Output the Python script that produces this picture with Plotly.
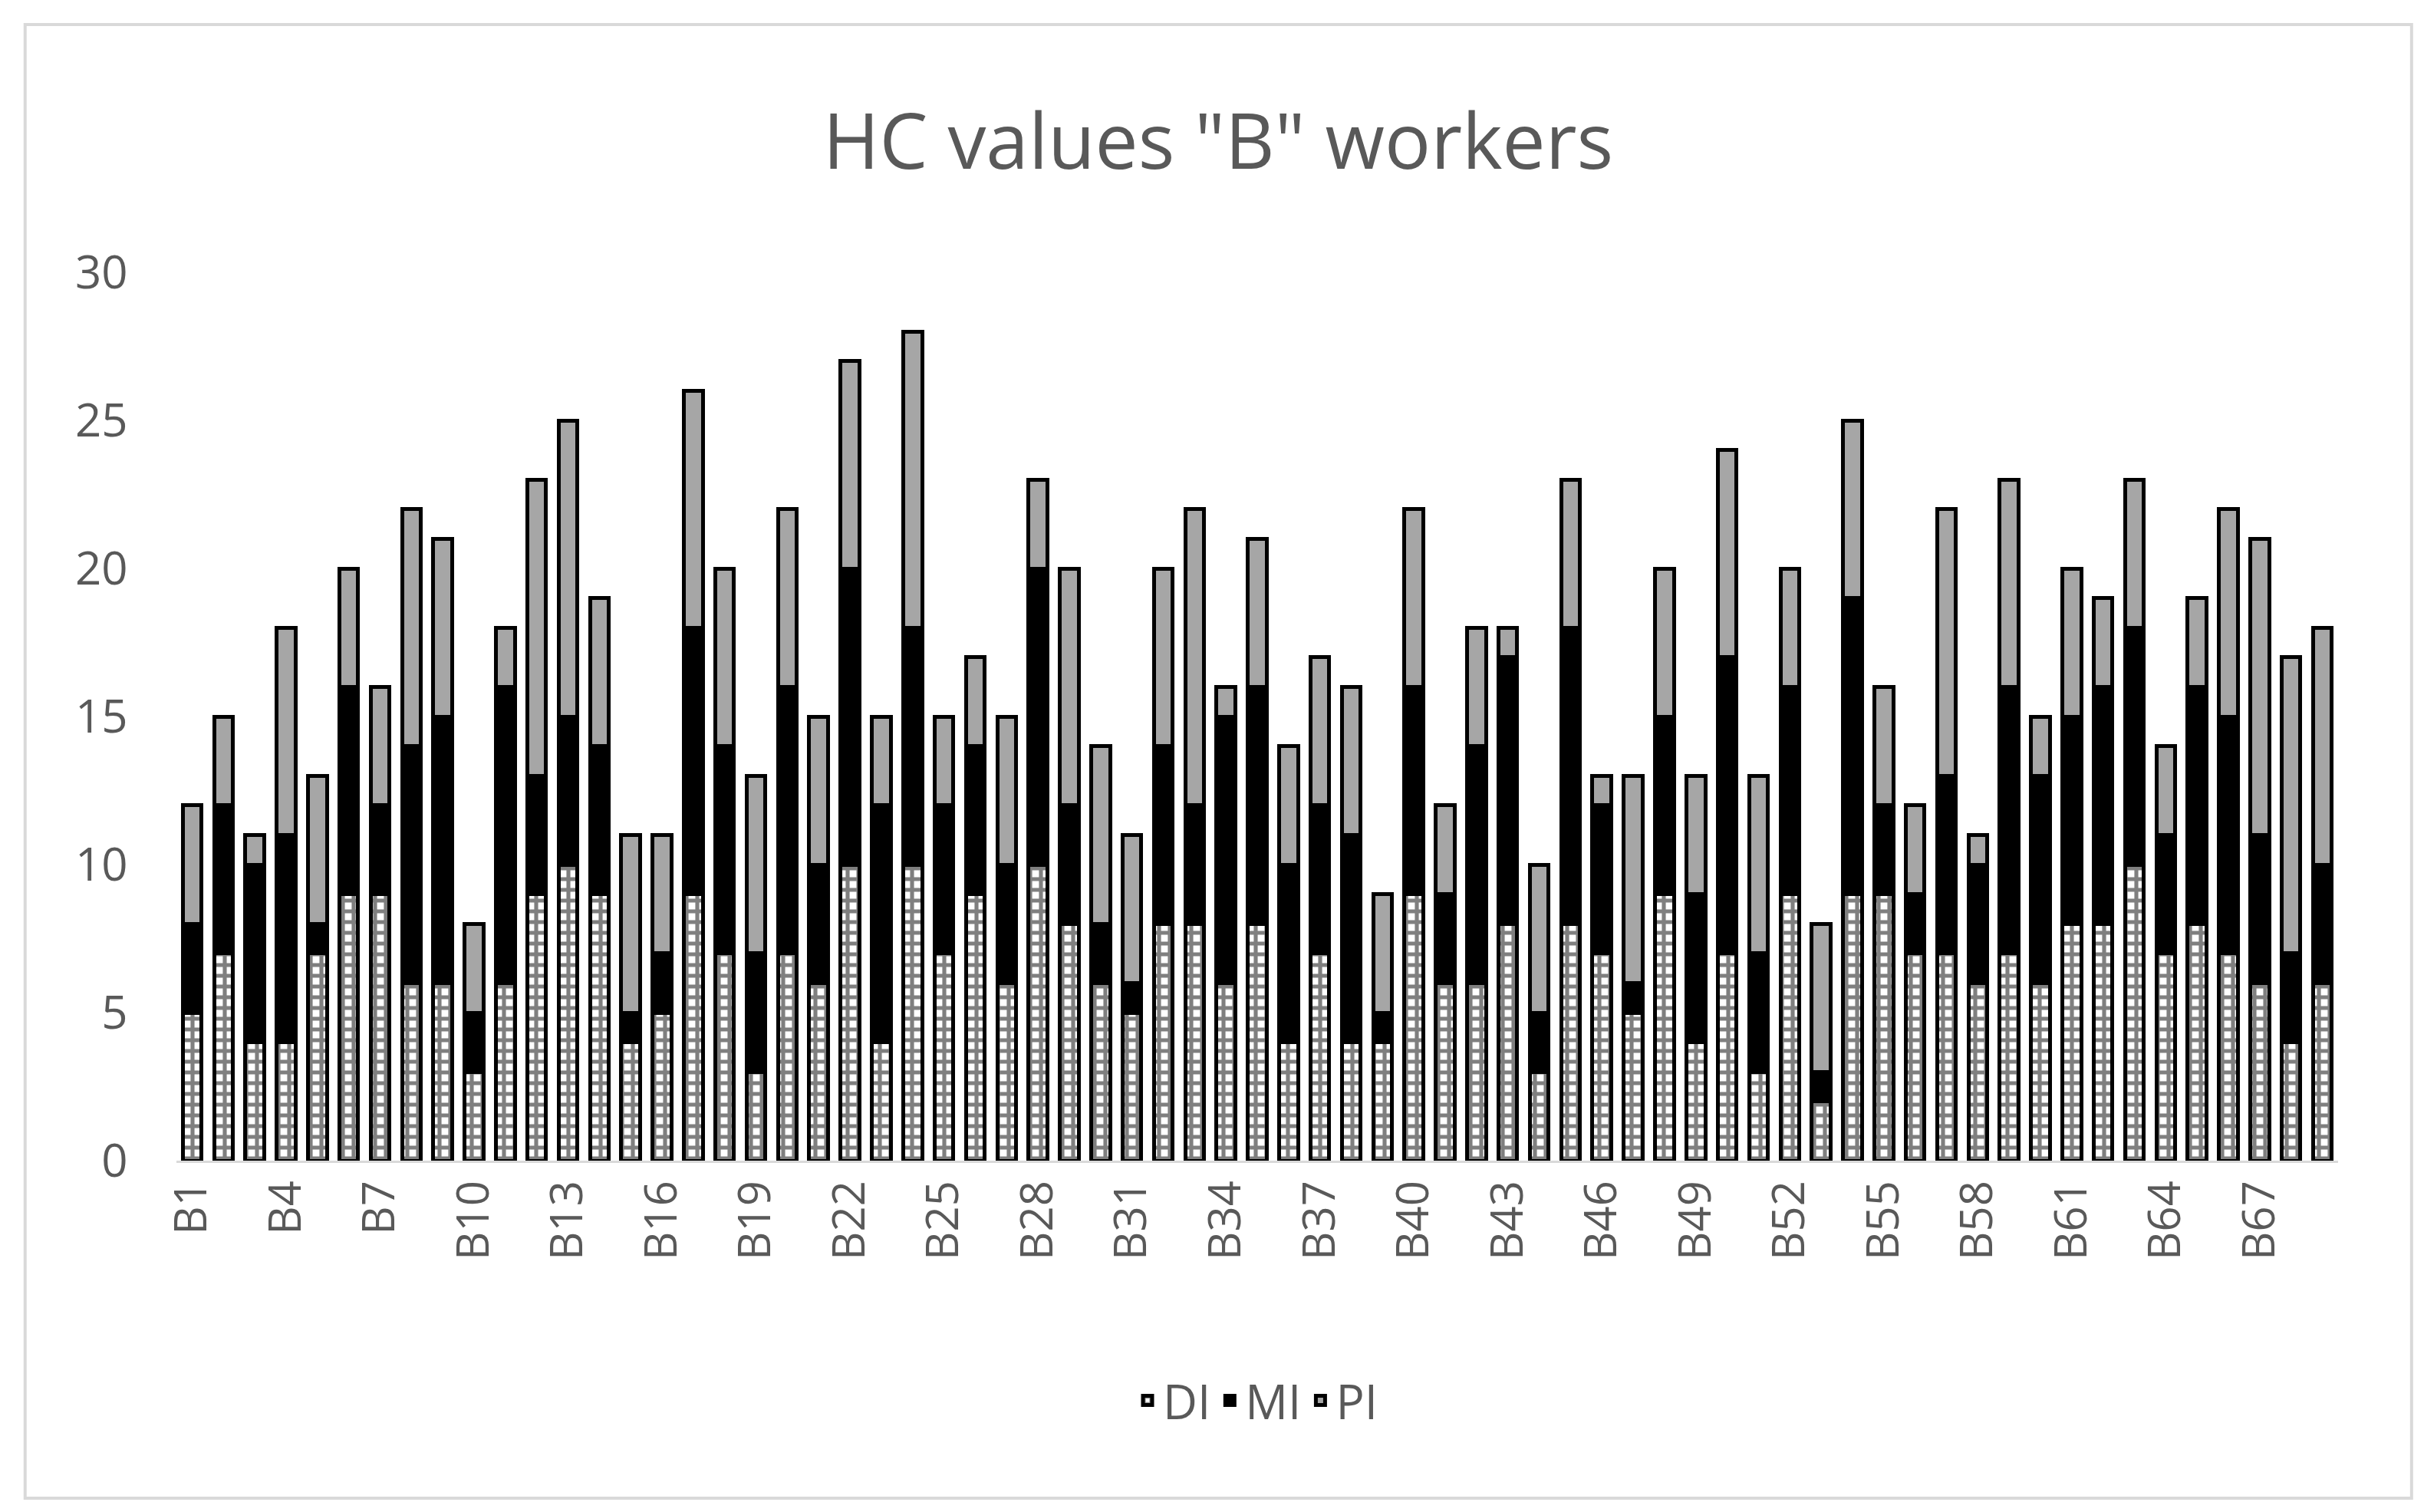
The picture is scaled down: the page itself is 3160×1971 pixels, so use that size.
import plotly.graph_objects as go

workers = [f"B{i}" for i in range(1, 70)]
DI = [5,7,4,4,7,9,9,6,6,3,6,9,10,9,4,5,9,7,3,7,6,10,4,10,7,9,6,10,8,6,5,8,8,6,8,4,7,4,4,9,6,6,8,3,8,7,5,9,4,7,3,9,2,9,9,7,7,6,7,6,8,8,10,7,8,7,6,4,6]
MI = [3,5,6,7,1,7,3,8,9,2,10,4,5,5,1,2,9,7,4,9,4,10,8,8,5,5,4,10,4,2,1,6,4,9,8,6,5,7,1,7,3,8,9,2,10,5,1,6,5,10,4,7,1,10,3,2,6,4,9,7,7,8,8,4,8,8,5,3,4]
PI = [4,3,1,7,5,4,4,8,6,3,2,10,10,5,6,4,8,6,6,6,5,7,3,10,3,3,5,3,8,6,5,6,10,1,5,4,5,5,4,6,3,4,1,5,5,1,7,5,4,7,6,4,5,6,4,3,9,1,7,2,5,3,5,3,3,7,10,10,8]
tickvals = workers[::3]

fnt = "Open Sans"
fig = go.Figure()
fig.add_bar(x=workers, y=DI, name="DI",
            marker=dict(color="white", line=dict(color="black", width=5),
                        pattern=dict(shape="+", fgcolor="black", bgcolor="white", size=14, solidity=0.6)))
fig.add_bar(x=workers, y=MI, name="MI",
            marker=dict(color="black", line=dict(color="black", width=5)))
fig.add_bar(x=workers, y=PI, name="PI",
            marker=dict(color="#a6a6a6", line=dict(color="black", width=5)))

fig.update_layout(
    barmode="stack", bargap=0.4,
    width=3160, height=1971,
    paper_bgcolor="white", plot_bgcolor="white",
    margin=dict(l=222, r=120, t=347, b=466),
    title=dict(text='HC values "B" workers', x=0.5, xanchor="center", y=0.91, yanchor="middle",
               font=dict(family=fnt, size=100, color="#595959")),
    font=dict(family=fnt, color="#595959", size=60),
    xaxis=dict(tickmode="array", tickvals=tickvals, ticktext=tickvals, tickangle=-90,
               showline=True, linecolor="#d9d9d9", linewidth=3, ticks="",
               tickfont=dict(size=58, color="#595959")),
    yaxis=dict(range=[0, 30], dtick=5, showgrid=False, zeroline=False,
               tickfont=dict(size=60, color="#595959"), ticksuffix="    "),
    legend=dict(orientation="h", x=0.5, xanchor="center", y=-0.27, yanchor="middle",
                font=dict(size=62, color="#595959"), traceorder="normal"),
    shapes=[dict(type="rect", xref="paper", yref="paper", x0=-0.07, x1=1.034, y0=-0.38, y1=1.279,
                 line=dict(color="#d9d9d9", width=4))],
)
fig.write_html("out.html")
